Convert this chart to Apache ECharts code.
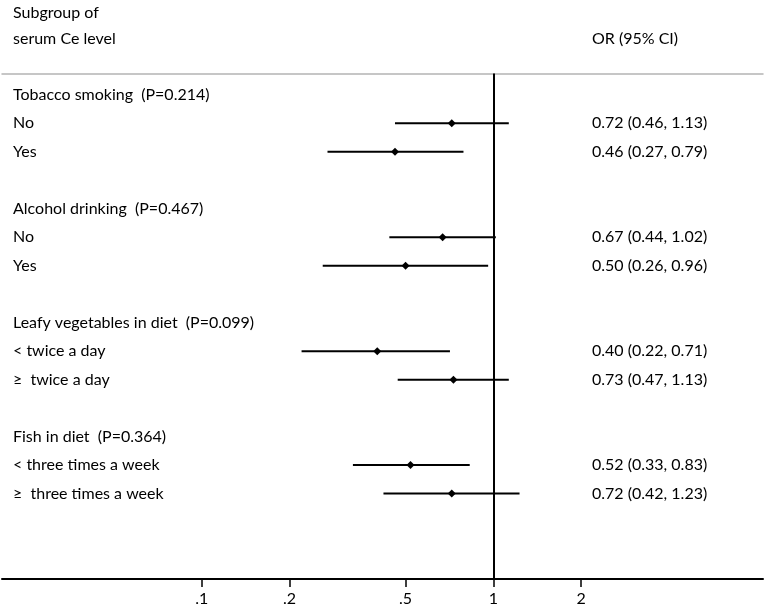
<!DOCTYPE html>
<html lang="en">
<head>
    <meta charset="UTF-8">
    <title>Forest plot</title>
    <script src="https://cdn.jsdelivr.net/npm/echarts@6/dist/echarts.min.js"></script>
    <style>
        html, body { margin: 0; padding: 0; background: #fff; }
    </style>
</head>
<body>
<div id="main" style="width: 765px;height:609px;"></div>
<script type="text/javascript">
    // rows from top to bottom, '' = blank spacer row
    var rowLabels = [
        'Tobacco smoking  (P=0.214)', 'No', 'Yes', '',
        'Alcohol drinking  (P=0.467)', 'No', 'Yes', '',
        'Leafy vegetables in diet  (P=0.099)', '< twice a day', '\u2265  twice a day', '',
        'Fish in diet  (P=0.364)', '< three times a week', '\u2265  three times a week'
    ];
    var orValue = [null, 0.72, 0.46, null, null, 0.67, 0.50, null, null, 0.40, 0.73, null, null, 0.52, 0.72];
    var ciLow   = [null, 0.46, 0.27, null, null, 0.44, 0.26, null, null, 0.22, 0.47, null, null, 0.33, 0.42];
    var ciHigh  = [null, 1.13, 0.79, null, null, 1.02, 0.96, null, null, 0.71, 1.13, null, null, 0.83, 1.23];
    var orText = ['', '0.72 (0.46, 1.13)', '0.46 (0.27, 0.79)', '', '',
        '0.67 (0.44, 1.02)', '0.50 (0.26, 0.96)', '', '',
        '0.40 (0.22, 0.71)', '0.73 (0.47, 1.13)', '', '',
        '0.52 (0.33, 0.83)', '0.72 (0.42, 1.23)'];
    var tickValues = [0.1, 0.2, 0.5, 1, 2];
    var tickLabels = ['.1', '.2', '.5', '1', '2'];

    var FONT = 'Lato';
    var FS = 16;
    var myChart = echarts.init(document.getElementById('main'));

    var ciData = [];
    var textData = [];
    for (var i = 0; i < rowLabels.length; i++) {
        textData.push([1, i]);
        if (orValue[i] != null) {
            ciData.push([orValue[i], i, ciLow[i], ciHigh[i]]);
        }
    }

    var option = {
        animation: false,
        grid: {left: 2, right: 2, top: 73.5, bottom: 30},
        xAxis: [{
            type: 'log',
            min: 0.02066,
            max: 8.41,
            axisLine: {onZero: false, lineStyle: {color: '#000', width: 2}},
            axisTick: {length: 8, lineStyle: {color: '#000', width: 1.5}, customValues: tickValues},
            axisLabel: {
                customValues: tickValues,
                margin: 12,
                color: '#000',
                fontFamily: FONT,
                fontSize: FS,
                formatter: function (v) {
                    var k = tickValues.indexOf(+v);
                    return k >= 0 ? tickLabels[k] : '';
                }
            },
            splitLine: {show: false}
        }, {
            type: 'log',
            position: 'top',
            min: 0.02066,
            max: 8.41,
            axisLine: {onZero: false, lineStyle: {color: '#b4b4b4', width: 1.5}},
            axisTick: {show: false},
            axisLabel: {show: false},
            splitLine: {show: false}
        }],
        yAxis: {
            type: 'value',
            inverse: true,
            min: -0.75,
            max: 17,
            show: false
        },
        graphic: [
            {type: 'text', left: 13, top: 5, style: {text: 'Subgroup of', fontFamily: FONT, fontSize: FS, fill: '#000'}},
            {type: 'text', left: 13, top: 31, style: {text: 'serum Ce level', fontFamily: FONT, fontSize: FS, fill: '#000'}},
            {type: 'text', left: 592, top: 31, style: {text: 'OR (95% CI)', fontFamily: FONT, fontSize: FS, fill: '#000'}}
        ],
        series: [{
            type: 'custom',
            name: 'text',
            silent: true,
            data: textData,
            renderItem: function (params, api) {
                var y = api.coord([1, api.value(1)])[1];
                return {
                    type: 'group',
                    children: [{
                        type: 'text',
                        x: 13, y: y,
                        style: {text: rowLabels[params.dataIndex], fontFamily: FONT, fontSize: FS, fill: '#000', verticalAlign: 'middle'}
                    }, {
                        type: 'text',
                        x: 592, y: y,
                        style: {text: orText[params.dataIndex], fontFamily: FONT, fontSize: FS, fill: '#000', verticalAlign: 'middle'}
                    }]
                };
            }
        }, {
            type: 'custom',
            name: 'CI',
            silent: true,
            data: ciData,
            renderItem: function (params, api) {
                var row = api.value(1);
                var p = api.coord([api.value(0), row]);
                var lo = api.coord([api.value(2), row]);
                var hi = api.coord([api.value(3), row]);
                var r = 4;
                return {
                    type: 'group',
                    children: [{
                        type: 'line',
                        shape: {x1: lo[0], y1: lo[1], x2: hi[0], y2: hi[1]},
                        style: {stroke: '#000', lineWidth: 2}
                    }, {
                        type: 'polygon',
                        shape: {points: [[p[0], p[1] - r], [p[0] + r, p[1]], [p[0], p[1] + r], [p[0] - r, p[1]]]},
                        style: {fill: '#000'}
                    }]
                };
            },
            markLine: {
                silent: true,
                symbol: 'none',
                label: {show: false},
                lineStyle: {color: '#000', width: 2, type: 'solid'},
                data: [{xAxis: 1}]
            }
        }]
    };
    myChart.setOption(option);
</script>
</body>
</html>
